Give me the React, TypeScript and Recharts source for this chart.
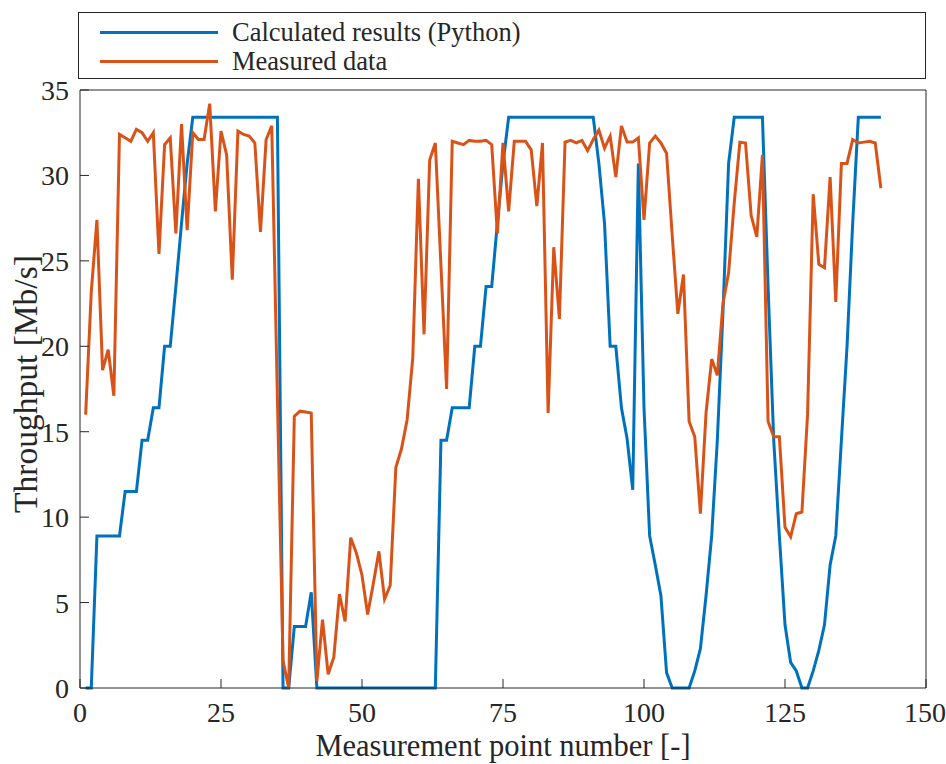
import { useLayoutEffect } from 'react';
import { LineChart, Line, XAxis, YAxis, Legend } from 'recharts';

// Throughput per measurement point (Mb/s)
const calculated = [
  0, 0, 8.9, 8.9, 8.9, 8.9, 8.9, 11.5, 11.5, 11.5,
  14.5, 14.5, 16.4, 16.4, 20.0, 20.0, 23.5, 27.2, 30.7, 33.4,
  33.4, 33.4, 33.4, 33.4, 33.4, 33.4, 33.4, 33.4, 33.4, 33.4,
  33.4, 33.4, 33.4, 33.4, 33.4, 0, 0, 3.6, 3.6, 3.6,
  5.6, 0, 0, 0, 0, 0, 0, 0, 0, 0,
  0, 0, 0, 0, 0, 0, 0, 0, 0, 0,
  0, 0, 0, 14.5, 14.5, 16.4, 16.4, 16.4, 16.4, 20.0,
  20.0, 23.5, 23.5, 27.2, 30.7, 33.4, 33.4, 33.4, 33.4, 33.4,
  33.4, 33.4, 33.4, 33.4, 33.4, 33.4, 33.4, 33.4, 33.4, 33.4,
  33.4, 30.7, 27.2, 20.0, 20.0, 16.4, 14.6, 11.6, 30.7, 16.4,
  8.9, 7.2, 5.4, 0.9, 0, 0, 0, 0, 1.0, 2.3,
  5.4, 8.9, 14.5, 22.0, 30.7, 33.4, 33.4, 33.4, 33.4, 33.4,
  33.4, 23.5, 14.5, 8.9, 3.7, 1.5, 1.0, 0, 0, 1.0,
  2.2, 3.7, 7.2, 8.9, 14.5, 20.0, 27.2, 33.4, 33.4, 33.4,
  33.4, 33.4,
];

const measured = [
  16.0, 23.2, 27.4, 18.6, 19.8, 17.1, 32.4, 32.2, 32.0, 32.7,
  32.5, 32.0, 32.5, 25.4, 31.8, 32.2, 26.6, 33.0, 26.8, 32.5,
  32.1, 32.1, 34.2, 27.9, 32.6, 31.2, 23.9, 32.6, 32.4, 32.3,
  31.9, 26.7, 32.1, 32.9, 17.0, 1.6, 0.0, 15.9, 16.2, 16.15,
  16.1, 0.4, 4.0, 0.8, 1.8, 5.5, 3.9, 8.8, 7.9, 6.6,
  4.3, 6.1, 8.0, 5.2, 6.0, 12.9, 14.0, 15.7, 19.3, 29.8,
  20.7, 30.9, 31.9, 24.7, 17.5, 32.0, 31.9, 31.8, 32.05, 32.0,
  32.0, 32.05, 31.8, 26.6, 31.9, 27.9, 32.0, 32.0, 32.0, 31.5,
  28.2, 31.9, 16.1, 25.8, 21.6, 31.95, 32.05, 31.9, 32.05, 31.45,
  32.1, 32.65, 31.6, 32.3, 29.9, 32.9, 31.95, 31.95, 32.2, 27.4,
  31.9, 32.3, 31.9, 31.3, 26.5, 21.9, 24.2, 15.6, 14.7, 10.2,
  16.1, 19.25, 18.3, 22.5, 24.3, 28.4, 31.95, 31.9, 27.65, 26.4,
  31.2, 15.6, 14.7, 14.7, 9.4, 8.85, 10.2, 10.3, 16.0, 28.9,
  24.8, 24.6, 29.9, 22.6, 30.7, 30.7, 32.1, 31.9, 31.95, 32.0,
  31.9, 29.25,
];

const xTicks = [0, 25, 50, 75, 100, 125, 150];
const yTicks = [0, 5, 10, 15, 20, 25, 30, 35];

const seriesNames = ['Calculated results (Python)', 'Measured data'];
const seriesColors = ['#0072BD', '#D95319'];

const data = calculated.map((value, i) => ({
  point: i + 1,
  calculated: value,
  measured: measured[i],
}));

const FONT = '"Liberation Serif", "Times New Roman", serif';
const INK = '#262626';
const TICK = 9;

// MATLAB-style boxed legend across the top
const renderLegend = (props: any) => {
  const { payload } = props;
  return (
    <div
      style={{
        boxSizing: 'border-box',
        width: 848,
        height: 67,
        border: `1px solid ${INK}`,
        background: '#fff',
        paddingTop: 5,
        fontFamily: FONT,
        fontSize: 26.5,
        color: INK,
      }}
    >
      {(payload || []).map((entry: any) => (
        <div
          key={entry.value}
          style={{ display: 'flex', alignItems: 'center', height: 29 }}
        >
          <div
            style={{
              marginLeft: 21,
              width: 118,
              height: 3,
              background: entry.color,
            }}
          />
          <span style={{ marginLeft: 14, lineHeight: '29px' }}>{entry.value}</span>
        </div>
      ))}
    </div>
  );
};

export default function App() {
  useLayoutEffect(() => {
    document.body.style.margin = '0';
  }, []);

  return (
    <LineChart
      width={946}
      height={764}
      data={data}
      margin={{ top: 89, right: 19, bottom: 0, left: 0 }}
      style={{ fontFamily: FONT }}
    >
      <XAxis
        dataKey="point"
        type="number"
        domain={[0, 150]}
        ticks={xTicks}
        height={76}
        stroke={INK}
        tickSize={-TICK}
        tickMargin={TICK + 14}
        tick={{ fontSize: 28, fill: INK, fontFamily: FONT }}
        label={{
          value: 'Measurement point number [-]',
          position: 'center',
          dy: 19,
          style: { fontSize: 30.5, fill: INK, fontFamily: FONT },
        }}
      />
      <XAxis
        xAxisId="top"
        orientation="top"
        dataKey="point"
        type="number"
        domain={[0, 150]}
        ticks={xTicks}
        height={1}
        stroke={INK}
        tickSize={-TICK}
        tick={false}
      />
      <YAxis
        type="number"
        domain={[0, 35]}
        ticks={yTicks}
        width={80}
        stroke={INK}
        tickSize={-TICK}
        tickMargin={TICK + 11}
        tick={{ fontSize: 28, fill: INK, fontFamily: FONT }}
        label={{
          value: 'Throughput [Mb/s]',
          angle: -90,
          position: 'center',
          dx: -15,
          dy: -5,
          style: { fontSize: 33.5, fill: INK, fontFamily: FONT, textAnchor: 'middle' },
        }}
      />
      <YAxis
        yAxisId="right"
        orientation="right"
        type="number"
        domain={[0, 35]}
        ticks={yTicks}
        width={1}
        stroke={INK}
        tickSize={-TICK}
        tick={false}
      />
      <Legend
        content={renderLegend}
        layout="horizontal"
        verticalAlign="middle"
        align="center"
        wrapperStyle={{ top: 12, left: 78, width: 848 }}
      />
      <Line
        type="linear"
        dataKey="calculated"
        name={seriesNames[0]}
        stroke={seriesColors[0]}
        strokeWidth={3}
        dot={false}
        activeDot={false}
        isAnimationActive={false}
      />
      <Line
        type="linear"
        dataKey="measured"
        name={seriesNames[1]}
        stroke={seriesColors[1]}
        strokeWidth={3}
        dot={false}
        activeDot={false}
        isAnimationActive={false}
      />
    </LineChart>
  );
}
